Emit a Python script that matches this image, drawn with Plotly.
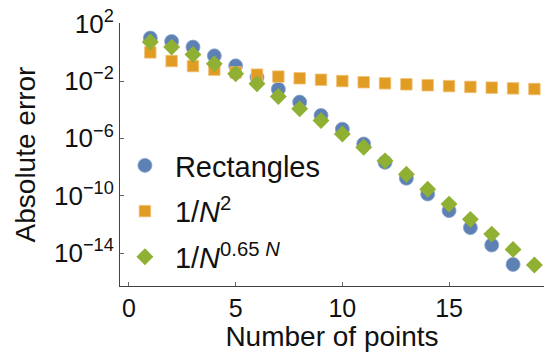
import plotly.graph_objects as go

# Number of sample points N
n_points = list(range(1, 20))

# Absolute error of the rectangle rule (no value at N = 19)
rect_error = [10.0, 5.75, 2.34, 0.575, 0.115, 1.82e-2, 2.69e-3, 3.39e-4, 3.98e-5,
              4.37e-6, 4.07e-7, 2.14e-8, 1.66e-9, 1.32e-10, 9.1e-12, 5.9e-13,
              3.6e-14, 1.6e-15]

# Reference curve 1/N^2
inv_sq = [1.0, 0.25, 0.111, 0.0625, 0.04, 0.0278, 0.0204, 0.0156, 0.0123, 0.01,
          0.00826, 0.00694, 0.00592, 0.0051, 0.00444, 0.0039, 0.00346, 0.00309,
          0.00277]

# Reference curve ~ 1/N^(0.65 N)
inv_pow = [5.25, 2.34, 0.708, 0.158, 3.24e-2, 6.46e-3, 8.3e-4, 1.15e-4, 1.74e-5,
           2.0e-6, 2.4e-7, 2.7e-8, 3.16e-9, 2.8e-10, 2.6e-11, 2.24e-12, 2.1e-13,
           1.8e-14, 1.45e-15]

y_tick_vals = [1e2, 1e-2, 1e-6, 1e-10, 1e-14]
y_tick_text = ["10<sup>2</sup>", "10<sup>−2</sup>", "10<sup>−6</sup>",
               "10<sup>−10</sup>", "10<sup>−14</sup>"]
x_tick_vals = [0, 5, 10, 15]

BLUE = "#5E81B5"
ORANGE = "#E19C24"
GREEN = "#8FB032"
FONT = "Liberation Sans, Arial, Helvetica, sans-serif"

fig = go.Figure()
fig.add_trace(go.Scatter(
    x=n_points[:len(rect_error)], y=rect_error, mode="markers", name="Rectangles",
    legendgroup="a", cliponaxis=False,
    marker=dict(symbol="circle", size=14, color=BLUE,
                line=dict(width=0.8, color="#8AA3CB"))))
fig.add_trace(go.Scatter(
    x=n_points, y=inv_sq, mode="markers", name="1/<i>N</i><sup>2</sup>",
    legendgroup="b", cliponaxis=False,
    marker=dict(symbol="square", size=11.5, color=ORANGE,
                line=dict(width=0.8, color="#F2C27A"))))
fig.add_trace(go.Scatter(
    x=n_points, y=inv_pow, mode="markers",
    name="1/<i>N</i><sup>0.65 <i>N</i></sup>",
    legendgroup="c", cliponaxis=False,
    marker=dict(symbol="diamond", size=13, color=GREEN,
                line=dict(width=0))))

axis_common = dict(
    showline=True, linecolor="#444444", linewidth=1,
    ticks="inside", ticklen=4, tickcolor="#666666", tickwidth=1,
    showgrid=False, zeroline=False, mirror=False,
)

fig.update_xaxes(
    range=[-0.42, 19.45], tickvals=x_tick_vals,
    tickfont=dict(family=FONT, size=25, color="#111111"),
    title=dict(text="Number of points", font=dict(family=FONT, size=28, color="#111111"),
               standoff=6),
    **axis_common)
fig.update_yaxes(
    type="log", range=[-16.3, 2.05], tickvals=y_tick_vals, ticktext=y_tick_text,
    tickfont=dict(family=FONT, size=26, color="#111111"),
    title=dict(text="Absolute error", font=dict(family=FONT, size=28, color="#111111"),
               standoff=10),
    **axis_common)

fig.update_layout(
    width=544, height=352,
    margin=dict(l=120, r=0, t=23, b=66, pad=0),
    paper_bgcolor="white", plot_bgcolor="white",
    showlegend=True,
    legend=dict(
        x=-0.012, y=0.555, xanchor="left", yanchor="top",
        font=dict(family=FONT, size=29, color="#111111"),
        itemwidth=50, tracegroupgap=5, traceorder="grouped",
        bgcolor="rgba(0,0,0,0)", borderwidth=0,
    ),
)

fig.write_html("out.html")
